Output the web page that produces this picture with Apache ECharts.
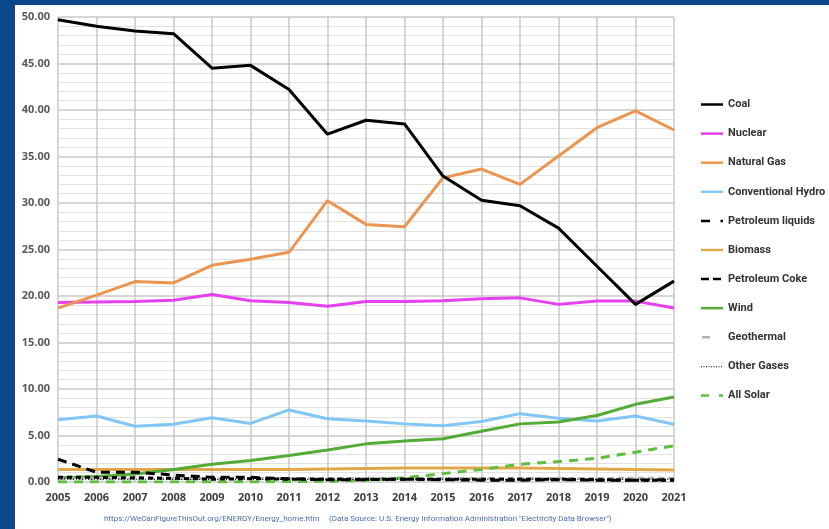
<!DOCTYPE html>
<html>
<head>
<meta charset="utf-8">
<script src="https://cdn.jsdelivr.net/npm/echarts@6/dist/echarts.min.js"></script>
<style>
  html, body { margin: 0; padding: 0; background: #0d4689; }
  #chart { width: 829px; height: 529px; }
</style>
</head>
<body>
<div id="chart"></div>
<script>
// years on the x axis
var years = ['2005','2006','2007','2008','2009','2010','2011','2012','2013','2014','2015','2016','2017','2018','2019','2020','2021'];

// share of generation, percent
var coal        = [49.7, 49.0, 48.5, 48.2, 44.5, 44.8, 42.2, 37.4, 38.9, 38.5, 32.9, 30.3, 29.7, 27.3, 23.2, 19.1, 21.6];
var nuclear     = [19.3, 19.35, 19.4, 19.55, 20.15, 19.5, 19.3, 18.9, 19.4, 19.4, 19.5, 19.7, 19.8, 19.1, 19.45, 19.45, 18.7];
var naturalGas  = [18.7, 20.1, 21.55, 21.4, 23.3, 23.95, 24.7, 30.25, 27.7, 27.45, 32.7, 33.65, 32.0, 35.05, 38.1, 39.9, 37.85];
var hydro       = [6.7, 7.1, 6.0, 6.2, 6.9, 6.3, 7.75, 6.8, 6.55, 6.25, 6.05, 6.5, 7.35, 6.85, 6.55, 7.1, 6.2];
var petroLiquid = [2.45, 1.05, 1.05, 0.75, 0.5, 0.5, 0.35, 0.25, 0.25, 0.3, 0.25, 0.2, 0.2, 0.25, 0.2, 0.2, 0.25];
var biomass     = [1.35, 1.35, 1.35, 1.35, 1.35, 1.35, 1.35, 1.4, 1.45, 1.5, 1.5, 1.5, 1.5, 1.45, 1.4, 1.35, 1.3];
var petroCoke   = [0.5, 0.5, 0.45, 0.4, 0.3, 0.35, 0.3, 0.3, 0.3, 0.3, 0.3, 0.3, 0.3, 0.3, 0.25, 0.2, 0.2];
var wind        = [0.45, 0.6, 0.85, 1.35, 1.9, 2.3, 2.85, 3.45, 4.1, 4.4, 4.65, 5.45, 6.25, 6.45, 7.15, 8.35, 9.15];
var geothermal  = [0.36, 0.36, 0.36, 0.37, 0.37, 0.37, 0.37, 0.38, 0.39, 0.39, 0.38, 0.38, 0.38, 0.39, 0.38, 0.41, 0.4];
var otherGases  = [0.3, 0.3, 0.3, 0.27, 0.26, 0.28, 0.28, 0.28, 0.29, 0.3, 0.3, 0.3, 0.3, 0.3, 0.3, 0.3, 0.3];
var allSolar    = [0.0, 0.0, 0.0, 0.0, 0.0, 0.0, 0.05, 0.08, 0.2, 0.45, 0.9, 1.35, 1.9, 2.2, 2.55, 3.2, 3.9];

var yTicks = ['0.00','5.00','10.00','15.00','20.00','25.00','30.00','35.00','40.00','45.00','50.00'];

// legend swatches drawn as small paths (solid, dash-dot, dashes, dots)
var solidIcon  = 'path://M0,0 L22,0 L22,2.5 L0,2.5 Z';
var liquidIcon = 'path://M0,0 L9,0 L9,2.5 L0,2.5 Z M19.5,0 L22,0 L22,2.5 L19.5,2.5 Z';
var cokeIcon   = 'path://M0,0 L8,0 L8,2.5 L0,2.5 Z M12,0 L20,0 L20,2.5 L12,2.5 Z M22,0 L22,2.5';
var geoIcon    = 'path://M1,0 L9,0 L9,2.5 L1,2.5 Z M0,0 L0,2.5 M22,0 L22,2.5';
var dotsIcon   = 'path://M0,1 L1,1 L1,2 L0,2 Z M2.5,1 L3.5,1 L3.5,2 L2.5,2 Z M5,1 L6,1 L6,2 L5,2 Z M7.5,1 L8.5,1 L8.5,2 L7.5,2 Z M10,1 L11,1 L11,2 L10,2 Z M12.5,1 L13.5,1 L13.5,2 L12.5,2 Z M15,1 L16,1 L16,2 L15,2 Z M17.5,1 L18.5,1 L18.5,2 L17.5,2 Z M20,1 L21,1 L21,2 L20,2 Z M0,0 L0,2.5 M22,0 L22,2.5';
var solarIcon  = 'path://M0,0 L8,0 L8,2.5 L0,2.5 Z M18,0 L22,0 L22,2.5 L18,2.5 Z';

var chart = echarts.init(document.getElementById('chart'));

function line(name, data, color, width, type, z) {
    return {
        name: name,
        type: 'line',
        data: data,
        symbol: 'none',
        z: z || 2,
        lineStyle: { color: color, width: width, type: type || 'solid' },
        itemStyle: { color: color }
    };
}

var option = {
    backgroundColor: '#0d4689',
    animation: false,
    graphic: [
        { type: 'rect', shape: { x: 15, y: 5, width: 814, height: 524 }, style: { fill: '#ffffff' }, z: -10 },
        { type: 'text', x: 104, y: 515, style: { text: 'https://WeCanFigureThisOut.org/ENERGY/Energy_home.htm', fill: '#4a6db0', fontSize: 8, fontFamily: 'Roboto' } },
        { type: 'text', x: 329, y: 515, style: { text: '(Data Source: U.S. Energy Information Administration "Electricity Data Browser")', fill: '#4a6db0', fontSize: 8, fontFamily: 'Roboto' } }
    ],
    grid: { left: 58, right: 155, top: 17, bottom: 47 },
    legend: {
        orient: 'vertical',
        left: 696,
        top: 94,
        itemWidth: 22,
        itemHeight: 14,
        itemGap: 18.1,
        data: [
            { name: 'Coal', icon: solidIcon },
            { name: 'Nuclear', icon: solidIcon },
            { name: 'Natural Gas', icon: solidIcon },
            { name: 'Conventional Hydro', icon: solidIcon },
            { name: 'Petroleum liquids', icon: liquidIcon },
            { name: 'Biomass', icon: solidIcon },
            { name: 'Petroleum Coke', icon: cokeIcon },
            { name: 'Wind', icon: solidIcon },
            { name: 'Geothermal', icon: geoIcon },
            { name: 'Other Gases', icon: dotsIcon },
            { name: 'All Solar', icon: solarIcon }
        ],
        textStyle: { color: '#333333', fontSize: 11, fontWeight: 'bold', fontFamily: 'Roboto' }
    },
    xAxis: {
        type: 'category',
        data: years,
        boundaryGap: false,
        axisLine: { show: false },
        axisTick: { show: false },
        axisLabel: { color: '#404040', fontSize: 11, fontWeight: 'bold', fontFamily: 'Open Sans', margin: 10 },
        splitLine: { show: true, lineStyle: { color: '#c8c8c8', width: 1.5 } }
    },
    yAxis: {
        type: 'value',
        min: 0,
        max: 50,
        interval: 5,
        axisLine: { show: false },
        axisTick: { show: false },
        axisLabel: {
            color: '#595959', fontSize: 11, fontWeight: 'bold', fontFamily: 'Open Sans', margin: 8,
            formatter: function (v) { return yTicks[Math.round(v / 5)]; }
        },
        splitLine: { show: true, lineStyle: { color: '#c8c8c8', width: 1.5 } },
        minorTick: { show: false, splitNumber: 5 },
        minorSplitLine: { show: true, lineStyle: { color: '#e2e2e2', width: 1 } }
    },
    series: [
        line('Coal', coal, '#000000', 3, 'solid', 5),
        line('Nuclear', nuclear, '#e640f0', 3),
        line('Natural Gas', naturalGas, '#eb9550', 3),
        line('Conventional Hydro', hydro, '#80c6f7', 3),
        line('Petroleum liquids', petroLiquid, '#000000', 3, [9, 6], 4),
        line('Biomass', biomass, '#e2a64b', 3),
        line('Petroleum Coke', petroCoke, '#000000', 3, [5, 4], 4),
        line('Wind', wind, '#52ac35', 3),
        line('Geothermal', geothermal, '#b4b4b4', 3, [6, 4], 3),
        line('Other Gases', otherGases, '#000000', 1, [1, 2], 4),
        line('All Solar', allSolar, '#5fbe3c', 3, [9, 7], 3)
    ]
};

chart.setOption(option);
</script>
</body>
</html>
